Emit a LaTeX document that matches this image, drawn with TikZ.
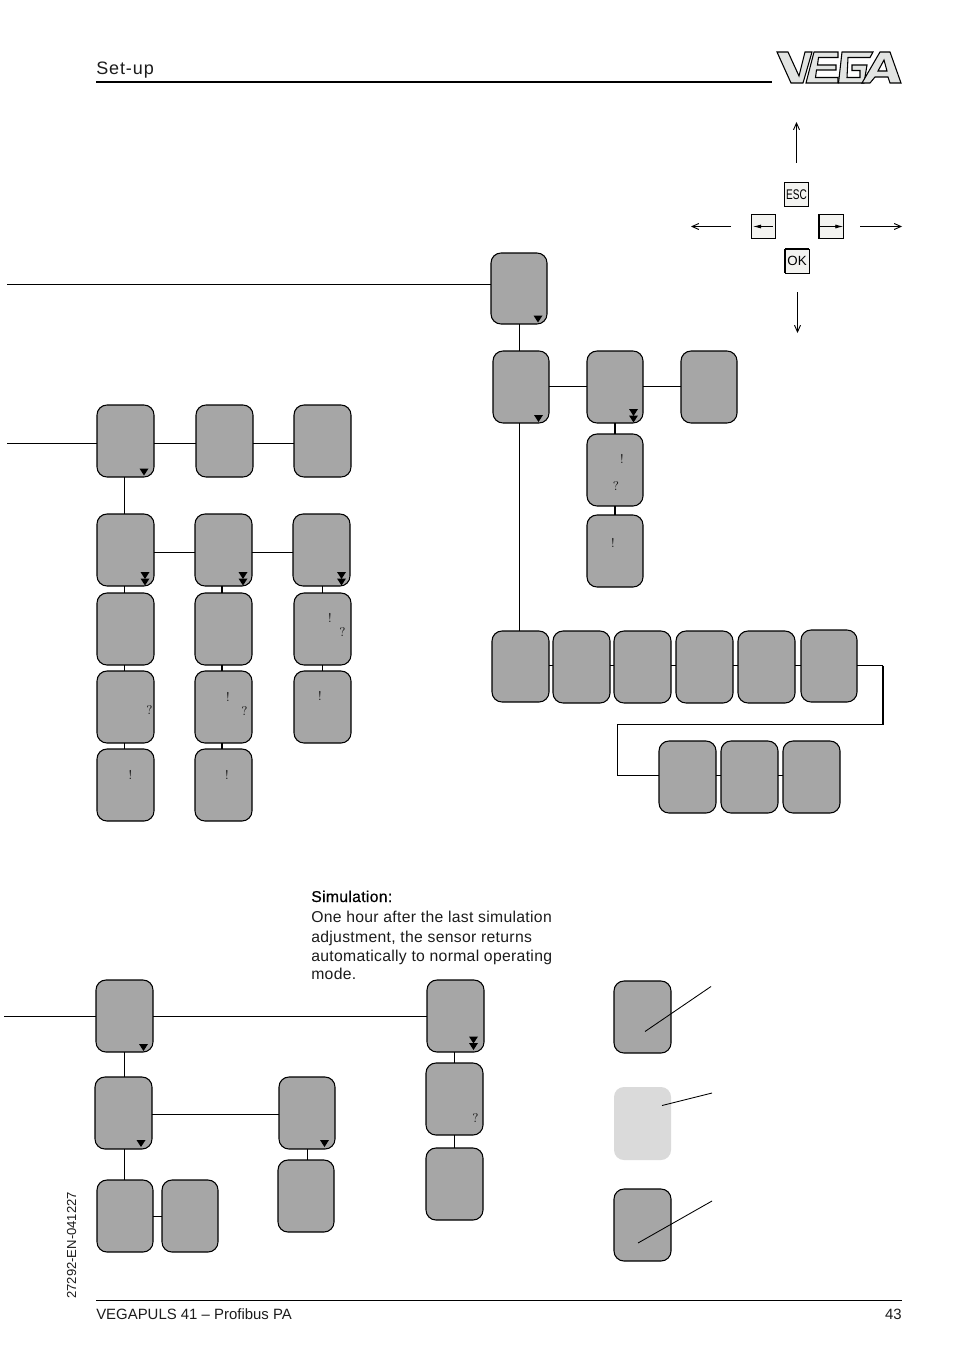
\documentclass[tikz,border=0pt]{standalone}
\usepackage{fontspec}
\setmainfont{Liberation Sans}
\newfontfamily\lmfont{Latin Modern Roman}
\newfontfamily\widefont[LetterSpace=2]{Liberation Sans}
\newfontfamily\widerfont[LetterSpace=5]{Liberation Sans}
\newfontfamily\simfont[LetterSpace=2,FakeBold=0.5]{Liberation Sans}
\usetikzlibrary{arrows.meta}
\definecolor{boxgray}{HTML}{A6A6A6}
\definecolor{lightgray2}{HTML}{DADADA}
\definecolor{keyfill}{HTML}{F3F3F0}
\definecolor{logofill}{HTML}{E2E4E2}
\definecolor{textcol}{HTML}{1C1C1C}
\tikzset{
  x=0.75pt,y=-0.75pt,
  scrbox/.style={draw=black,fill=boxgray,line width=0.8pt,rounded corners=7.5pt,inner sep=0pt,outer sep=0pt},
  lightbox/.style={fill=lightgray2,draw=none,rounded corners=7.5pt,inner sep=0pt,outer sep=0pt},
  conn/.style={draw=black,line width=0.65pt},
  thickconn/.style={draw=black,line width=1.4pt},
  keybox/.style={draw=black,fill=keyfill,line width=0.6pt,inner sep=0pt,outer sep=0pt,minimum size=18pt},
  arr/.style={draw=black,line width=0.7pt,-{Straight Barb[length=5pt,width=4.5pt]}},
  signmark/.style={font=\lmfont\fontsize{9.5}{9.5}\selectfont,inner sep=0pt,text=black!90},
  lab/.style={inner sep=0pt,anchor=base west,text=textcol},
  para/.style={lab,font=\widefont\fontsize{11.8}{12}\selectfont},
  logo/.style={draw=black,fill=logofill,line width=0.8pt,line join=miter},
}
\newcommand{\bx}[5]{\node[scrbox,minimum width={(#3-#2)*0.75pt},minimum height={(#5-#4)*0.75pt}] (#1) at ({(#2+#3)/2},{(#4+#5)/2}) {};}
\newcommand{\vc}[4][conn]{\coordinate (tmpc) at (#4,0); \draw[#1] (#2.south -| tmpc) -- (#3.north -| tmpc);}
\newcommand{\hc}[4][conn]{\coordinate (tmpc) at (0,#4); \draw[#1] (#2.east |- tmpc) -- (#3.west |- tmpc);}
\newcommand{\tri}[2]{\fill[black] ({#1-4.5},{#2-3.5}) -- ({#1+4.5},{#2-3.5}) -- ({#1},{#2+3.5}) -- cycle;}
\newcommand{\dtri}[2]{\tri{#1}{#2-3.5}\tri{#1}{#2+3}}
\begin{document}
\begin{tikzpicture}
\useasboundingbox (0,0) rectangle (954,1352);
\fill[white] (0,0) rectangle (954,1352);
% header
\node[lab,font=\widerfont\fontsize{13.5}{14}\selectfont] (title) at (96,75) {Set-up};
\coordinate (hl) at (96,82); \coordinate (hr) at (772,82);
\draw[line width=1.2pt] (hl) -- (hr);
% logo
\draw[logo] (777,52) -- (788,52) -- (799,76) -- (805,52) -- (812,52) -- (803,83) -- (791,83) -- cycle;
\draw[logo] (814,52) -- (838,52) -- (838,57.5) -- (818.5,57.5) -- (817.5,65) -- (836,65) -- (836,70) -- (816.5,70) -- (815.5,77.5) -- (838,77.5) -- (838,83) -- (806,83) -- cycle;
\draw[logo] (842,52) -- (873,52) -- (870,57.5) -- (848,57.5) -- (847,77.5) -- (860,77.5) -- (860,70.5) -- (852,70.5) -- (852,65) -- (867,65) -- (864,83) -- (838.5,83) -- cycle;
\draw[logo,even odd rule] (880,52) -- (890,52) -- (901,83) -- (890,83) -- (888,77) -- (875,77) -- (870,83) -- (862,83) -- cycle (884,60) -- (887,71) -- (878,71) -- cycle;
% keys
\node[keybox,minimum size=17.5pt,font=\fontsize{10.5}{10.5}\selectfont] (esc) at (796.5,194.5) {\scalebox{0.72}[1]{ESC}};
\node[keybox,minimum size=18.5pt] (kl) at (763.5,226.5) {};
\node[keybox,minimum size=18.5pt] (kr) at (831,226.5) {};
\node[keybox,minimum size=18pt,font=\fontsize{10}{10}\selectfont] (ok) at (797,261) {OK};
\draw[line width=1.3pt] (kr.north west) -- (kr.south west);
\draw[line width=1.3pt] (ok.north west) -- (ok.south west) (ok.north west) -- (ok.north east);
\coordinate (kla) at (773,226.5); \coordinate (klb) at (753,226.5);
\draw[line width=0.6pt,-{Latex[length=6pt,width=3pt]}] (kla) -- (klb);
\draw[line width=0.6pt,-{Latex[length=6pt,width=3pt]}] (kr.west) -- (kr.east);
\coordinate (au1) at (796.5,163); \coordinate (au2) at (796.5,122);
\coordinate (al1) at (731,226.5); \coordinate (al2) at (691,226.5);
\coordinate (ar1) at (860,226.5); \coordinate (ar2) at (902,226.5);
\coordinate (ad1) at (797.5,292); \coordinate (ad2) at (797.5,333);
\draw[arr] (au1) -- (au2);
\draw[arr] (al1) -- (al2);
\draw[arr] (ar1) -- (ar2);
\draw[arr] (ad1) -- (ad2);
% upper right tree
\bx{t1}{491}{547}{253}{324}
\bx{r1}{493}{549}{351}{423}
\bx{r2}{587}{643}{351}{423}
\bx{r3}{681}{737}{351}{423}
\bx{r2a}{587}{643}{434}{506}
\bx{r2b}{587}{643}{515}{587}
\bx{s1}{492}{549}{631}{702}
\bx{s2}{553}{610}{631}{703}
\bx{s3}{614}{671}{631}{703}
\bx{s4}{676}{733}{631}{703}
\bx{s5}{738}{795}{631}{703}
\bx{s6}{801}{857}{630}{702}
\bx{u1}{659}{716}{741}{813}
\bx{u2}{721}{778}{741}{813}
\bx{u3}{783}{840}{741}{813}
\coordinate (ft) at (7,284.5);
\draw[conn] (ft) -- (ft -| t1.west);
\vc{t1}{r1}{519.5}
\vc{r1}{s1}{519.5}
\hc{r1}{r2}{386.5}
\hc{r2}{r3}{386.5}
\vc[thickconn]{r2}{r2a}{615}
\vc[thickconn]{r2a}{r2b}{615}
\hc{s1}{s2}{665.5}\hc{s2}{s3}{665.5}\hc{s3}{s4}{665.5}\hc{s4}{s5}{665.5}\hc{s5}{s6}{665.5}
\hc{u1}{u2}{775.5}\hc{u2}{u3}{775.5}
\coordinate (w1) at (883,665.5); \coordinate (w2) at (883,724.5); \coordinate (w3) at (617.5,724.5); \coordinate (w4) at (617.5,775.5);
\draw[conn] (s6.east |- w1) -- (w1);
\draw[thickconn] (w1) -- (w2);
\draw[conn] (w2) -- (w3) -- (w4) -- (w4 -| u1.west);
% left tree
\bx{a1}{97}{154}{405}{477}
\bx{b1}{196}{253}{405}{477}
\bx{c1}{294}{351}{405}{477}
\bx{a2}{97}{154}{514}{586}
\bx{b2}{195}{252}{514}{586}
\bx{c2}{293}{350}{514}{586}
\bx{a3}{97}{154}{593}{665}
\bx{b3}{195}{252}{593}{665}
\bx{c3}{294}{351}{593}{665}
\bx{a4}{97}{154}{671}{743}
\bx{b4}{195}{252}{671}{743}
\bx{c4}{294}{351}{671}{743}
\bx{a5}{97}{154}{749}{821}
\bx{b5}{195}{252}{749}{821}
\coordinate (fa) at (7,443.5);
\draw[conn] (fa) -- (fa -| a1.west);
\hc{a1}{b1}{443.5}\hc{b1}{c1}{443.5}
\vc{a1}{a2}{124.5}
\hc{a2}{b2}{552.5}\hc{b2}{c2}{552.5}
\vc{a2}{a3}{124.5}\vc{a3}{a4}{124.5}\vc{a4}{a5}{124.5}
\vc[thickconn]{b2}{b3}{222}\vc[thickconn]{b3}{b4}{222}\vc[thickconn]{b4}{b5}{222}
\vc[thickconn]{c2}{c3}{322.5}\vc[thickconn]{c3}{c4}{322.5}
% bottom tree
\bx{d1}{96}{153}{980}{1052}
\bx{d2}{427}{484}{980}{1052}
\bx{d3}{95}{152}{1077}{1149}
\bx{d4}{279}{335}{1077}{1149}
\bx{d5}{278}{334}{1160}{1232}
\bx{d6}{426}{483}{1063}{1135}
\bx{d7}{426}{483}{1148}{1220}
\bx{d8}{97}{153}{1180}{1252}
\bx{d9}{162}{218}{1180}{1252}
\coordinate (fd) at (4,1016.5);
\draw[conn] (fd) -- (fd -| d1.west);
\hc{d1}{d2}{1016.5}
\vc{d1}{d3}{124.5}
\vc{d3}{d8}{124.5}
\hc{d3}{d4}{1114.5}
\vc{d4}{d5}{307.5}
\hc{d8}{d9}{1216.5}
\vc{d2}{d6}{454.5}
\vc{d6}{d7}{454.5}
% legend
\bx{e1}{614}{671}{981}{1053}
\node[lightbox,minimum width={57*0.75pt},minimum height={73*0.75pt}] (e2) at (642.5,1123.5) {};
\bx{e3}{614}{671}{1189}{1261}
\coordinate (l1a) at (645,1031.5); \coordinate (l1b) at (711,986.5);
\coordinate (l2a) at (662,1105.5); \coordinate (l2b) at (712,1093);
\coordinate (l3a) at (638,1243); \coordinate (l3b) at (712,1201);
\draw[conn] (l1a) -- (l1b);
\draw[conn] (l2a) -- (l2b);
\draw[conn] (l3a) -- (l3b);
% triangles
\tri{538}{319}\tri{538.5}{418.5}\tri{144}{472}\tri{143.5}{1047.5}\tri{141}{1143.5}\tri{324.5}{1143.5}
\dtri{633.5}{416}\dtri{145}{579}\dtri{243}{579}\dtri{341.5}{579}\dtri{473.5}{1043.5}
% marks
\node[signmark] (m1) at (622,459) {!};
\node[signmark] (m2) at (616,486) {?};
\node[signmark] (m3) at (613,543) {!};
\node[signmark] (m4) at (149.5,710) {?};
\node[signmark] (m5) at (130.5,775) {!};
\node[signmark] (m6) at (228,696.5) {!};
\node[signmark] (m7) at (244.5,711) {?};
\node[signmark] (m8) at (227,775) {!};
\node[signmark] (m9) at (330,618) {!};
\node[signmark] (m10) at (342.5,632) {?};
\node[signmark] (m11) at (320,696) {!};
\node[signmark] (m12) at (475.5,1118) {?};
% texts
\node[lab,text=black,font=\simfont\fontsize{11.8}{12}\selectfont] (s0) at (311,902) {Simulation:};
\node[para] (s1t) at (311,922) {One hour after the last simulation};
\node[para] (s2t) at (311,942) {adjustment, the sensor returns};
\node[para] (s3t) at (311,961) {automatically to normal operating};
\node[para] (s4t) at (311,979) {mode.};
\node[lab,rotate=90,font=\fontsize{9.8}{10}\selectfont] (code) at (76,1299) {27292-EN-041227};
\coordinate (fl) at (96,1300); \coordinate (fr) at (902,1300);
\draw[line width=0.75pt] (fl) -- (fr);
\node[lab,font=\fontsize{11.2}{12}\selectfont] (foot) at (96,1319) {VEGAPULS 41 – Profibus PA};
\node[inner sep=0pt,anchor=base east,text=textcol,font=\fontsize{11.2}{12}\selectfont] (pg) at (902,1319) {43};
\end{tikzpicture}
\end{document}
